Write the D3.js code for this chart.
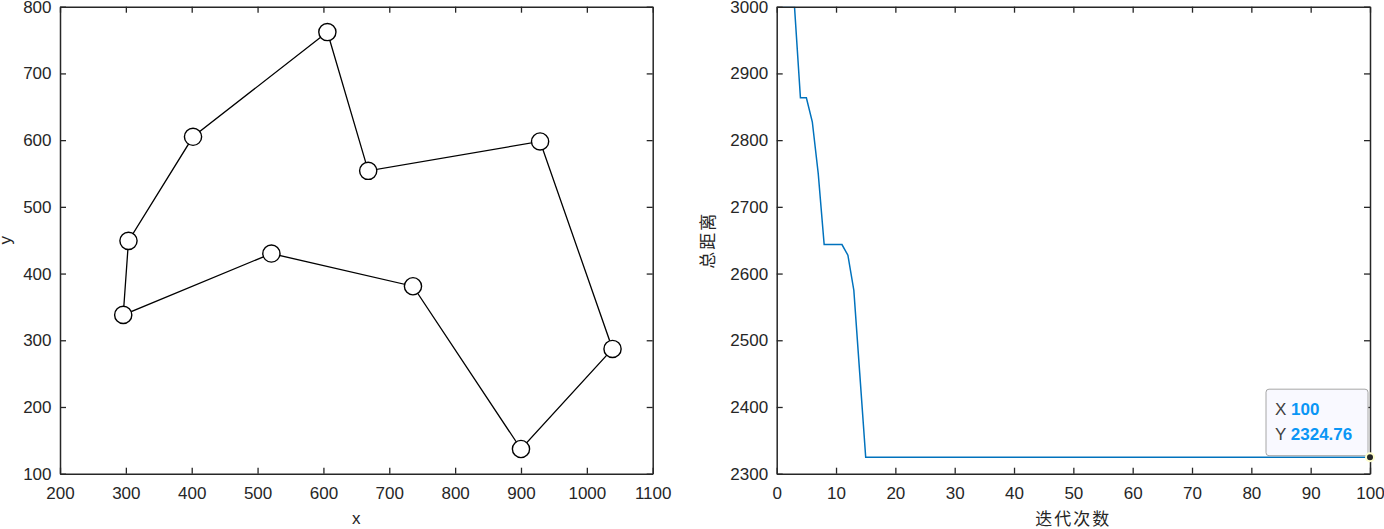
<!DOCTYPE html>
<html>
<head>
<meta charset="utf-8">
<script src="https://cdn.jsdelivr.net/npm/d3@7"></script>
<style>
  html, body { margin: 0; padding: 0; background: #ffffff; }
  svg { display: block; }
  text { font-family: "Liberation Sans", Arial, Helvetica, sans-serif; fill: #262626; }
  .cjk { font-family: "Noto Sans CJK SC", sans-serif; }
</style>
</head>
<body>
<svg id="chart" width="1384" height="529"></svg>
<script>
// ---------- data ----------
const cityX = [606, 668, 929, 1039, 900, 736, 521, 296, 304, 402, 606];
const cityY = [762, 554, 598, 287, 137, 381, 430, 338, 449, 605, 762];

const iterations = [
  1,2,3,4,5,6,7,8,9,10,11,12,13,14,15,16,17,18,19,20,
  21,22,23,24,25,26,27,28,29,30,31,32,33,34,35,36,37,38,39,40,
  41,42,43,44,45,46,47,48,49,50,51,52,53,54,55,56,57,58,59,60,
  61,62,63,64,65,66,67,68,69,70,71,72,73,74,75,76,77,78,79,80,
  81,82,83,84,85,86,87,88,89,90,91,92,93,94,95,96,97,98,99,100
];
const totalDist = [
  3000,3000,3000,2863.5,2863.5,2827.5,2750,2643.5,2643.5,2643.5,
  2643.5,2627.5,2575,2450,2324.76,2324.76,2324.76,2324.76,2324.76,2324.76,
  2324.76,2324.76,2324.76,2324.76,2324.76,2324.76,2324.76,2324.76,2324.76,2324.76,
  2324.76,2324.76,2324.76,2324.76,2324.76,2324.76,2324.76,2324.76,2324.76,2324.76,
  2324.76,2324.76,2324.76,2324.76,2324.76,2324.76,2324.76,2324.76,2324.76,2324.76,
  2324.76,2324.76,2324.76,2324.76,2324.76,2324.76,2324.76,2324.76,2324.76,2324.76,
  2324.76,2324.76,2324.76,2324.76,2324.76,2324.76,2324.76,2324.76,2324.76,2324.76,
  2324.76,2324.76,2324.76,2324.76,2324.76,2324.76,2324.76,2324.76,2324.76,2324.76,
  2324.76,2324.76,2324.76,2324.76,2324.76,2324.76,2324.76,2324.76,2324.76,2324.76,
  2324.76,2324.76,2324.76,2324.76,2324.76,2324.76,2324.76,2324.76,2324.76,2324.76
];

const leftXTicks = [200,300,400,500,600,700,800,900,1000,1100];
const leftYTicks = [100,200,300,400,500,600,700,800];
const rightXTicks = [0,10,20,30,40,50,60,70,80,90,100];
const rightYTicks = [2300,2400,2500,2600,2700,2800,2900,3000];

const leftXLabel = "x";
const leftYLabel = "y";
const rightXLabel = "迭代次数";
const rightYLabel = "总距离";
const tipX = "100";
const tipY = "2324.76";

// ---------- layout ----------
const svg = d3.select("#chart");
const plotTop = 6.7, plotBottom = 473.7;
const L = { x0: 60, x1: 652.7 };
const R = { x0: 776.7, x1: 1370 };
const axisColor = "#262626";
const fontSize = 17;
const fmt = d3.format("d");

function drawAxes(g, x, y, xTicks, yTicks) {
  const x0 = x.range()[0], x1 = x.range()[1];
  const y0 = y.range()[0], y1 = y.range()[1];
  const tl = 6;
  g.append("g").attr("transform", `translate(0,${y0})`)
    .call(d3.axisBottom(x).tickValues(xTicks).tickFormat(fmt).tickSizeInner(-tl).tickSizeOuter(0).tickPadding(13));
  g.append("g").attr("transform", `translate(0,${y1})`)
    .call(d3.axisTop(x).tickValues(xTicks).tickSizeInner(-tl).tickSizeOuter(0).tickFormat(""));
  g.append("g").attr("transform", `translate(${x0},0)`)
    .call(d3.axisLeft(y).tickValues(yTicks).tickFormat(fmt).tickSizeInner(-tl).tickSizeOuter(0).tickPadding(8.5));
  g.append("g").attr("transform", `translate(${x1},0)`)
    .call(d3.axisRight(y).tickValues(yTicks).tickSizeInner(-tl).tickSizeOuter(0).tickFormat(""));
  g.selectAll(".domain").attr("stroke", axisColor).attr("stroke-width", 1.5);
  g.selectAll(".tick line").attr("stroke", axisColor).attr("stroke-width", 1.3);
  g.selectAll(".tick text")
    .attr("fill", axisColor)
    .style("font-family", '"Liberation Sans", Arial, sans-serif')
    .style("font-size", fontSize + "px");
}

// ---------- left chart ----------
const xL = d3.scaleLinear().domain([200, 1100]).range([L.x0, L.x1]);
const yL = d3.scaleLinear().domain([100, 800]).range([plotBottom, plotTop]);
const gL = svg.append("g");

const route = d3.range(cityX.length).map(i => [cityX[i], cityY[i]]);
gL.append("path")
  .datum(route)
  .attr("fill", "none")
  .attr("stroke", "#000")
  .attr("stroke-width", 1.3)
  .attr("d", d3.line().x(d => xL(d[0])).y(d => yL(d[1])));

gL.selectAll("circle.city")
  .data(route.slice(0, route.length - 1))
  .join("circle")
  .attr("class", "city")
  .attr("cx", d => xL(d[0]))
  .attr("cy", d => yL(d[1]))
  .attr("r", 8.6)
  .attr("fill", "#fff")
  .attr("stroke", "#000")
  .attr("stroke-width", 1.4);

drawAxes(gL, xL, yL, leftXTicks, leftYTicks);

gL.append("text")
  .attr("x", (L.x0 + L.x1) / 2).attr("y", 520)
  .attr("text-anchor", "middle").attr("dominant-baseline", "middle")
  .style("font-size", fontSize + "px")
  .text(leftXLabel);
gL.append("text")
  .attr("transform", `translate(7,${(plotTop + plotBottom) / 2}) rotate(-90)`)
  .attr("text-anchor", "middle").attr("dominant-baseline", "middle")
  .style("font-size", fontSize + "px")
  .text(leftYLabel);

// ---------- right chart ----------
const xR = d3.scaleLinear().domain([0, 100]).range([R.x0, R.x1]);
const yR = d3.scaleLinear().domain([2300, 3000]).range([plotBottom, plotTop]);
const gR = svg.append("g");

svg.append("defs").append("clipPath").attr("id", "clipR")
  .append("rect").attr("x", R.x0).attr("y", plotTop).attr("width", R.x1 - R.x0).attr("height", plotBottom - plotTop);

const conv = iterations.map((it, i) => [it, totalDist[i]]);
gR.append("path")
  .datum(conv)
  .attr("clip-path", "url(#clipR)")
  .attr("fill", "none")
  .attr("stroke", "#0072BD")
  .attr("stroke-width", 1.5)
  .attr("d", d3.line().x(d => xR(d[0])).y(d => yR(d[1])));

drawAxes(gR, xR, yR, rightXTicks, rightYTicks);

gR.append("text")
  .attr("class", "cjk")
  .attr("x", (R.x0 + R.x1) / 2).attr("y", 520)
  .attr("text-anchor", "middle").attr("dominant-baseline", "middle")
  .style("font-size", "17px")
  .style("letter-spacing", "2px")
  .text(rightXLabel);
gR.append("text")
  .attr("class", "cjk")
  .attr("transform", `translate(709,${(plotTop + plotBottom) / 2}) rotate(-90)`)
  .attr("text-anchor", "middle").attr("dominant-baseline", "middle")
  .style("font-size", "17px")
  .style("letter-spacing", "2px")
  .text(rightYLabel);

// ---------- data tip ----------
const last = conv[conv.length - 1];
const tx = xR(last[0]), ty = yR(last[1]);
const tip = gR.append("g");
tip.append("rect")
  .attr("x", tx - 104).attr("y", ty - 68)
  .attr("width", 102).attr("height", 66.5)
  .attr("rx", 3).attr("ry", 3)
  .attr("fill", "#f9f9ff")
  .attr("stroke", "#a6a6a6")
  .attr("stroke-width", 1);
const rowX = tip.append("text").attr("x", tx - 95).attr("y", ty - 46)
  .attr("dominant-baseline", "middle").style("font-size", "17px");
rowX.append("tspan").attr("fill", "#404040").text("X ");
rowX.append("tspan").attr("fill", "#0a96f5").style("font-weight", "bold").text(tipX);
const rowY = tip.append("text").attr("x", tx - 95).attr("y", ty - 21)
  .attr("dominant-baseline", "middle").style("font-size", "17px");
rowY.append("tspan").attr("fill", "#404040").text("Y ");
rowY.append("tspan").attr("fill", "#0a96f5").style("font-weight", "bold").text(tipY);

tip.append("circle")
  .attr("cx", tx).attr("cy", ty).attr("r", 4)
  .attr("fill", "#262626")
  .attr("stroke", "#ffffd0")
  .attr("stroke-width", 2);
</script>
</body>
</html>
